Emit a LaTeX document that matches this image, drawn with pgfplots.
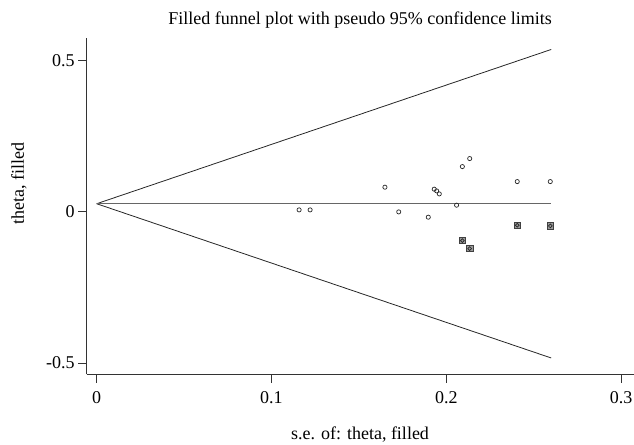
\documentclass[border=0pt]{standalone}
\usepackage{pgfplots}
\pgfplotsset{compat=1.18}
\usepackage{fontspec}
\setmainfont{Liberation Serif}
\begin{document}
\begin{tikzpicture}[x=1bp,y=1bp]
\useasboundingbox (0,0) rectangle (634,445);
\begin{axis}[
  at={(86.7bp,70.7bp)}, anchor=south west,
  scale only axis, width=547.3bp, height=336.3bp,
  xmin=-0.0057, xmax=0.3074, ymin=-0.537, ymax=0.575,
  axis x line*=bottom, axis y line*=left,
  axis line style={-, black!80, line width=0.8pt},
  tick align=outside, major tick length=8.5bp,
  tick style={black!80, line width=0.8pt},
  xtick={0,0.1,0.2,0.3}, ytick={-0.5,0,0.5},
  yticklabels={-0.5,0,0.5},
  /pgf/number format/assume math mode=true,
  ticklabel style={font=\fontsize{18bp}{21bp}\selectfont},
  xticklabel style={yshift=-5bp},
  clip=false,
]
% funnel limits
\addplot[black!85, line width=0.8pt] coordinates {(0,0.027) (0.26,0.537)};
\addplot[black!85, line width=0.8pt] coordinates {(0,0.027) (0.26,-0.483)};
\addplot[black!60, line width=0.8pt] coordinates {(0,0.027) (0.26,0.027)};
% filled (imputed) studies
\addplot[only marks, mark=square*, mark size=3.2bp,
  mark options={draw=black!75, fill=black!40, line width=0.7pt}]
  coordinates {(0.2092,-0.0949) (0.2134,-0.1214) (0.2406,-0.0440) (0.2595,-0.0463)};
\addplot[only marks, mark=o, mark size=1.9bp,
  mark options={draw=black!85, fill=white, line width=0.7pt}]
  coordinates {(0.2092,-0.0949) (0.2134,-0.1214) (0.2406,-0.0440) (0.2595,-0.0463)};
% observed studies
\addplot[only marks, mark=o, mark size=2.1bp,
  mark options={draw=black!85, line width=0.7pt}]
  coordinates {
  (0.1158,0.0066) (0.1221,0.0066) (0.1649,0.0817) (0.1728,0.0000)
  (0.1897,-0.0175) (0.1931,0.0751) (0.1945,0.0694) (0.1960,0.0595)
  (0.2059,0.0222) (0.2092,0.1498) (0.2134,0.1763) (0.2406,0.1002)
  (0.2595,0.1002)};
\end{axis}
\node[anchor=base, font=\fontsize{18bp}{21bp}\selectfont] at (360,420) {Filled funnel plot with pseudo 95\% confidence limits};
\node[anchor=base, font=\fontsize{18bp}{21bp}\selectfont] at (360,5) {s.e. of: theta, filled};
\node[rotate=90, font=\fontsize{18bp}{21bp}\selectfont] at (19,261) {theta, filled};
\end{tikzpicture}
\end{document}
